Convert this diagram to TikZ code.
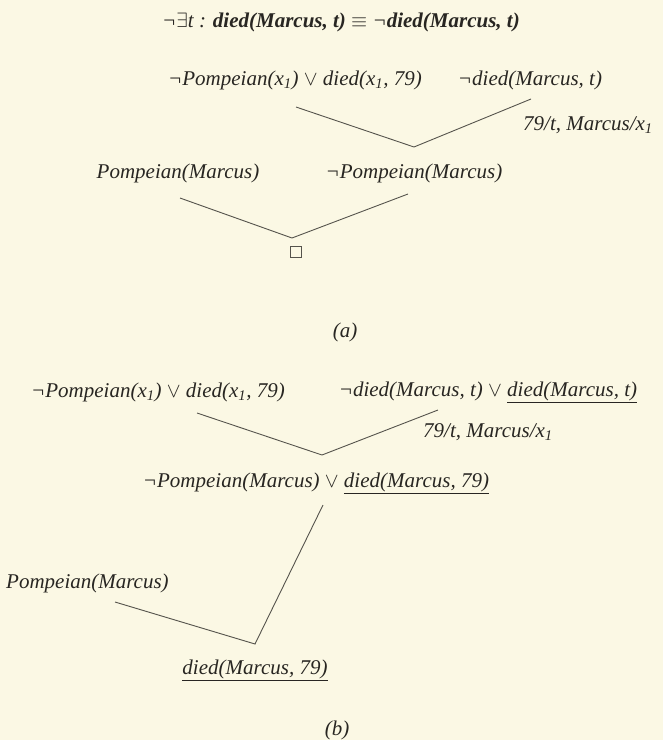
\documentclass[tikz,border=0pt]{standalone}
\usepackage{fontspec}
\setmainfont{Liberation Serif}
\definecolor{paper}{RGB}{251,248,228}
\definecolor{ink}{RGB}{40,38,34}
\definecolor{lineink}{RGB}{85,83,76}
\newcommand{\xone}{x\textsubscript{1}}
\begin{document}
\begin{tikzpicture}[x=1pt,y=-1pt,
  lbl/.style={inner sep=1pt, text=ink, font=\fontsize{21}{24}\selectfont\itshape},
  edge/.style={draw=lineink, line width=0.9pt},
  emptybox/.style={draw=lineink, line width=0.9pt, minimum size=11pt, inner sep=0pt}]
\fill[paper] (0,0) rectangle (663,740);
\useasboundingbox (0,0) rectangle (663,740);

% ---------- (a) ----------
\node[lbl] (title) at (341,22) {¬$\exists$t : \textbf{died(Marcus, t)} $\equiv$ ¬\textbf{died(Marcus, t)}};
\node[lbl] (a1) at (295,80) {¬Pompeian(\xone) $\vee$ died(\xone, 79)};
\node[lbl] (a2) at (530,80) {¬died(Marcus, t)};
\coordinate (a1e) at (296,107);
\coordinate (a2e) at (531,99);
\coordinate (av1) at (414,147);
\draw[edge] (a1e) -- (av1) -- (a2e);
\node[lbl, anchor=west] (sub1) at (522,125) {79/t, Marcus/\xone};
\node[lbl] (a3) at (178,173) {Pompeian(Marcus)};
\node[lbl] (a4) at (414,173) {¬Pompeian(Marcus)};
\coordinate (a3e) at (180,198);
\coordinate (a4e) at (408,194);
\coordinate (av2) at (292,238);
\draw[edge] (a3e) -- (av2) -- (a4e);
\node[emptybox] (box) at (296,252) {};
\node[lbl] (capa) at (345,332) {(a)};

% ---------- (b) ----------
\node[lbl] (b1) at (158,392) {¬Pompeian(\xone) $\vee$ died(\xone, 79)};
\node[lbl] (b2) at (488,392) {¬died(Marcus, t) $\vee$ \underline{died(Marcus, t)}};
\coordinate (b1e) at (197,413);
\coordinate (b2e) at (438,410);
\coordinate (bv1) at (322,455);
\draw[edge] (b1e) -- (bv1) -- (b2e);
\node[lbl, anchor=west] (sub2) at (422,432) {79/t, Marcus/\xone};
\node[lbl] (b3) at (316,483) {¬Pompeian(Marcus) $\vee$ \underline{died(Marcus, 79)}};
\node[lbl, anchor=west] (b4) at (5,583) {Pompeian(Marcus)};
\coordinate (b3e) at (323,505);
\coordinate (b4e) at (115,602);
\coordinate (bv2) at (255,644);
\draw[edge] (b4e) -- (bv2) -- (b3e);
\node[lbl] (b5) at (255,670) {\underline{died(Marcus, 79)}};
\node[lbl] (capb) at (337,730) {(b)};
\end{tikzpicture}
\end{document}
